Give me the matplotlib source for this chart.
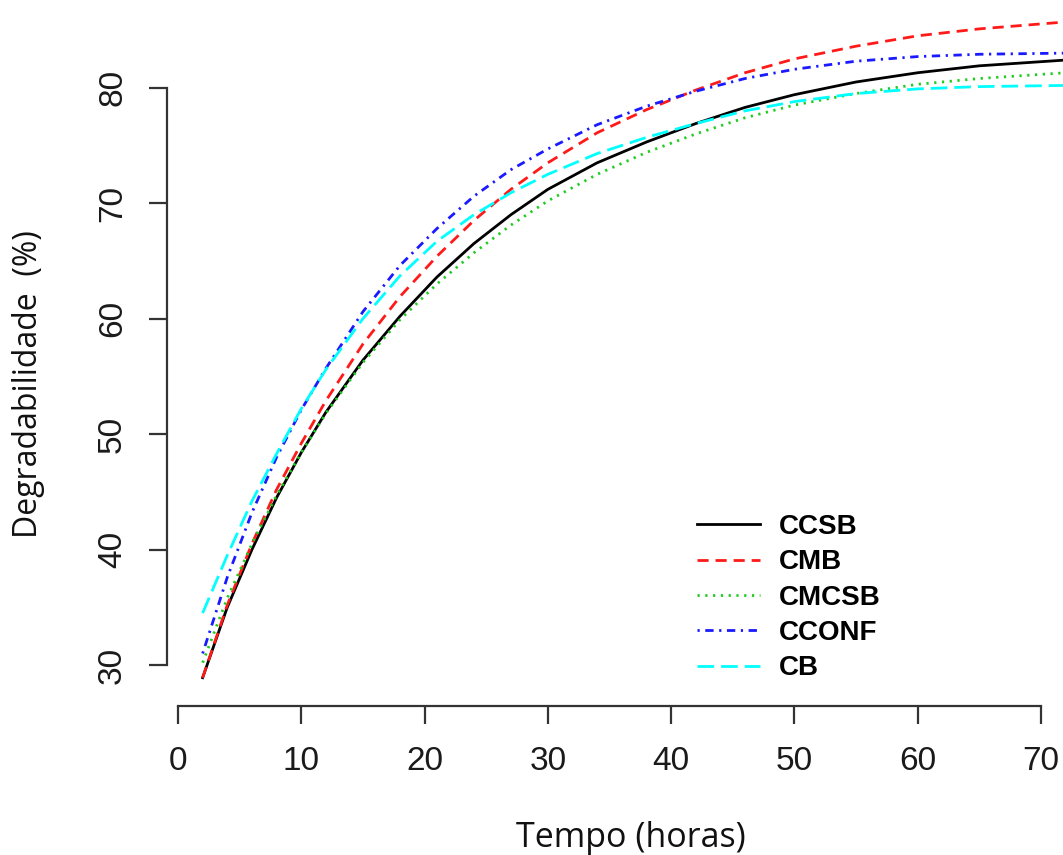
import matplotlib
matplotlib.use("Agg")
import matplotlib.pyplot as plt

plt.rcParams['lines.scale_dashes'] = False

# Time (hours)
tempo = [2, 4, 6, 8, 10, 12, 15, 18, 21, 24, 27, 30, 34, 38, 42, 46, 50, 55, 60, 65, 72]

# Degradability (%)
ccsb  = [28.9, 35.0, 40.0, 44.5, 48.4, 51.9, 56.4, 60.2, 63.6, 66.5, 69.0, 71.2, 73.5, 75.3, 76.9, 78.3, 79.4, 80.5, 81.3, 81.9, 82.4]
cmb   = [28.9, 35.2, 40.5, 45.2, 49.2, 52.9, 57.8, 61.9, 65.4, 68.5, 71.2, 73.5, 76.1, 78.1, 79.8, 81.3, 82.5, 83.6, 84.5, 85.1, 85.7]
cmcsb = [30.2, 35.8, 40.5, 44.7, 48.4, 51.8, 56.2, 59.9, 63.0, 65.7, 68.1, 70.2, 72.5, 74.4, 76.0, 77.4, 78.5, 79.5, 80.3, 80.8, 81.3]
cconf = [31.0, 37.6, 43.2, 48.0, 52.1, 55.7, 60.6, 64.6, 67.8, 70.6, 72.9, 74.7, 76.8, 78.4, 79.7, 80.8, 81.6, 82.3, 82.7, 82.9, 83.0]
cb    = [34.5, 39.5, 44.2, 48.3, 52.2, 55.6, 60.0, 63.7, 66.7, 69.0, 70.9, 72.5, 74.3, 75.7, 76.9, 78.0, 78.8, 79.5, 79.9, 80.1, 80.2]

labels = ["CCSB", "CMB", "CMCSB", "CCONF", "CB"]
xticks = [0, 10, 20, 30, 40, 50, 60, 70]
yticks = [30, 40, 50, 60, 70, 80]

W, H = 1063, 855
fig = plt.figure(figsize=(W / 100, H / 100), dpi=100)
ax = fig.add_axes([167 / W, (H - 706) / H, (W - 167) / W, 706 / H])
ax.set_xlim(-0.89, 71.78)
ax.set_ylim(26.45, 87.6)

lw = 2.0
series = [
    (ccsb, "black", None),
    (cmb, "#FF1A1A", (0, (8, 5))),
    (cmcsb, "#1FCC1F", (0, (1.6, 4))),
    (cconf, "#1A1AFF", (0, (1.6, 4, 6, 4))),
    (cb, "#00FFFF", (0, (12, 5))),
]
handles = []
for (vals, col, ls), lab in zip(series, labels):
    if ls is None:
        h, = ax.plot(tempo, vals, color=col, lw=lw, label=lab)
    else:
        h, = ax.plot(tempo, vals, color=col, lw=lw, linestyle=ls, label=lab)
    handles.append(h)

for s in ["top", "right"]:
    ax.spines[s].set_visible(False)
for s in ["left", "bottom"]:
    ax.spines[s].set_linewidth(1.6)
    ax.spines[s].set_color("#333333")
ax.spines["bottom"].set_bounds(0, 70)
ax.spines["left"].set_bounds(30, 80)

ax.set_xticks(xticks)
ax.set_yticks(yticks)
ax.set_xticklabels([str(v) for v in xticks], fontfamily="Liberation Sans", fontsize=24, color="#1a1a1a")
ax.set_yticklabels([str(v) for v in yticks], fontfamily="Liberation Sans", fontsize=24, color="#1a1a1a",
                   rotation=90, va="center")
ax.tick_params(axis="x", direction="out", length=13, width=1.6, color="#333333", pad=16)
ax.tick_params(axis="y", direction="out", length=13, width=1.6, color="#333333", pad=15)

ax.set_xlabel("Tempo (horas)", fontfamily="Open Sans", fontsize=24.5, color="#111111", va="center", ha="center")
ax.xaxis.set_label_coords((631 - 167) / (W - 167), (706 - 838) / 706)
ax.set_ylabel("Degradabilidade  (%)", fontfamily="Open Sans", fontsize=23, color="#111111", va="center", ha="center")
ax.yaxis.set_label_coords((29 - 167) / (W - 167), (706 - 384) / 706)

leg = ax.legend(handles=handles, labels=labels, loc="upper left",
                bbox_to_anchor=(697 / W, (H - 514) / H), bbox_transform=fig.transFigure,
                frameon=False, borderpad=0, borderaxespad=0, handlelength=2.25,
                handletextpad=0.7, labelspacing=0.335,
                prop={"family": "Liberation Sans", "weight": "bold", "size": 20})

fig.savefig("out.png", dpi=100)
